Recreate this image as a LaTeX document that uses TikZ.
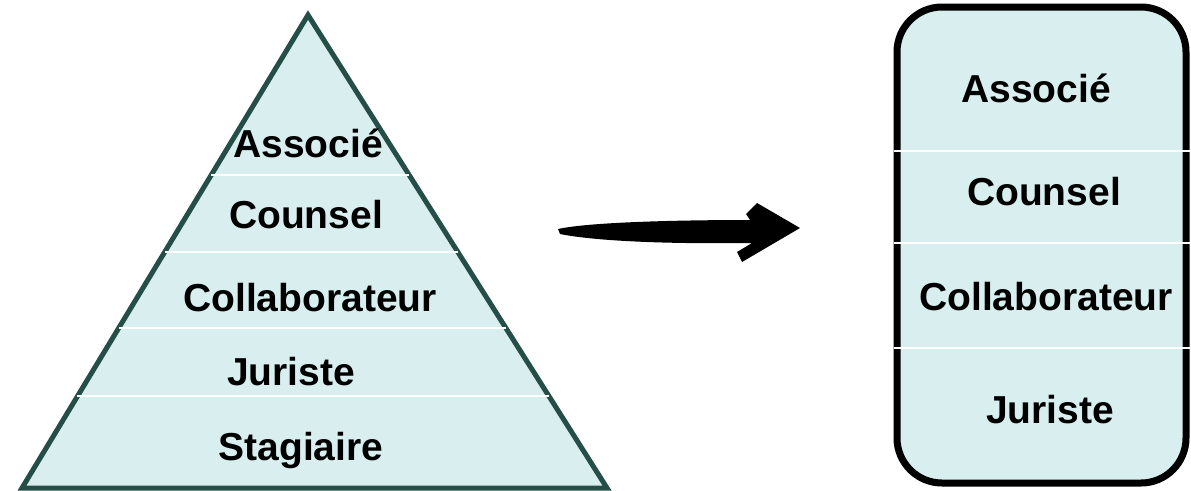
\documentclass[tikz,border=0pt]{standalone}
\usepackage{fontspec}
\setmainfont{Liberation Sans}
\usetikzlibrary{calc}
\definecolor{paleblue}{RGB}{217,238,239}
\definecolor{darkteal}{RGB}{38,78,72}

\begin{document}
\begin{tikzpicture}[x=1pt, y=-1pt]
        % cadre de l'image
        \useasboundingbox (0,0) rectangle (1191,490);
        \tikzset{rank/.style={font=\fontsize{39}{47}\selectfont\bfseries, text=black, inner sep=0pt}}

        % pyramide
        \coordinate (top) at (308,15);
        \coordinate (bl) at (22,488);
        \coordinate (br) at (607,488);
        \fill[paleblue] (top) -- (br) -- (bl) -- cycle;
        \draw[darkteal, line width=5pt, line join=miter] (top) -- (br) -- (bl) -- cycle;

        % separations entre les niveaux
        \foreach \t in {0.338,0.501,0.662,0.806}
            \draw[white, line width=2pt] ($(top)!\t!(bl)$) -- ($(top)!\t!(br)$);

        % niveaux de la pyramide
        \node[rank] (p1) at (308,143) {Associé};
        \node[rank] (p2) at (306,215) {Counsel};
        \node[rank] (p3) at (310,298) {Collaborateur};
        \node[rank] (p4) at (291,372) {Juriste};
        \node[rank] (p5) at (301,450) {Stagiaire};

        % fleche au pinceau
        \fill[black] (558,229) .. controls (590,222) and (680,220) .. (750,220)
            -- (746,214) -- (757,203) -- (800,228) -- (742,262) -- (737,252) -- (752,243)
            .. controls (680,244) and (600,242) .. (560,234) -- cycle;

        % nouvelle structure
        \node[draw=black, fill=paleblue, line width=7pt, rounded corners=45pt,
              minimum width=289pt, minimum height=476pt] (box) at (1041.5,245) {};
        \foreach \y in {151,243,348}
            \draw[white, line width=2pt] (box.west |- 0,\y) -- (box.east |- 0,\y);

        \node[rank] (b1) at (1036,88) {Associé};
        \node[rank] (b2) at (1044,192) {Counsel};
        \node[rank] (b3) at (1046,297) {Collaborateur};
        \node[rank] (b4) at (1050,410) {Juriste};
        \end{tikzpicture}
\end{document}
